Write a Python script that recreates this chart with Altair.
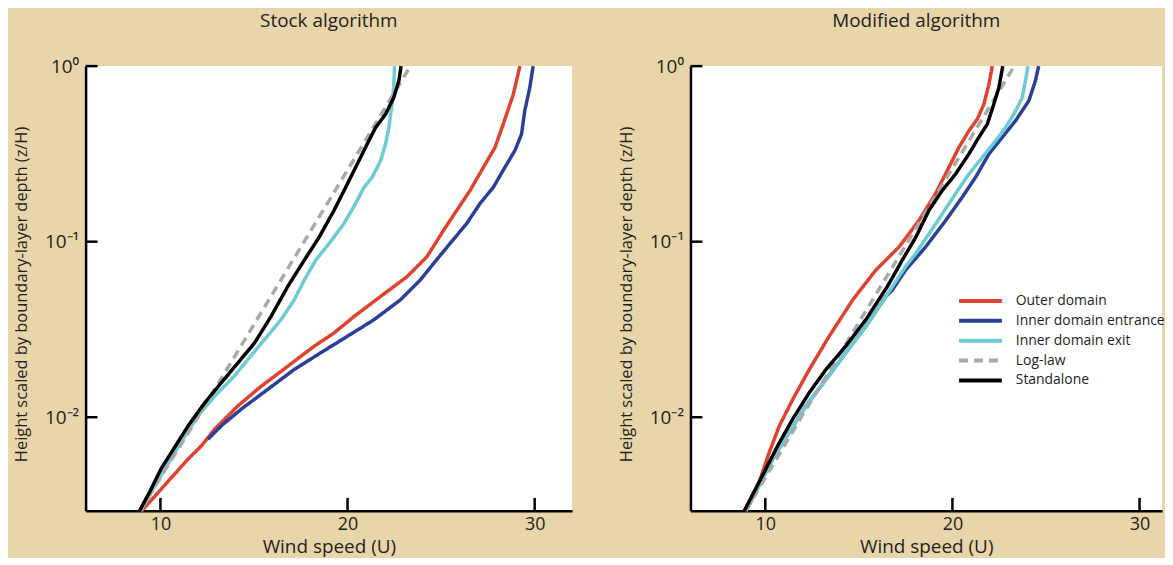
import altair as alt
import pandas as pd

FONT = "Open Sans"
TEXT = "#231f20"
BG = "#e8d5aa"

SERIES = ["Outer domain", "Inner domain entrance", "Inner domain exit", "Log-law", "Standalone"]
COLORS = ["#e2412f", "#2b3f98", "#6ccbd3", "#a9a9ab", "#000000"]
DASHES = [[1, 0], [1, 0], [1, 0], [9, 6], [1, 0]]

X_TICKS = [10, 20, 30]
Y_TICKS = [1, 0.1, 0.01]

# ---------- Stock algorithm ----------
stock_outer_u = [9.0, 11.48, 12.19, 12.90, 14.14, 15.38, 16.80, 18.22, 19.28, 20.35, 21.76, 23.18,
                 24.24, 25.13, 25.84, 26.55, 27.26, 27.88, 28.32, 28.86, 29.21]
stock_outer_z = [0.00293, 0.00578, 0.00687, 0.00855, 0.0116, 0.0150, 0.0195, 0.0254, 0.0302, 0.0375,
                 0.0487, 0.0632, 0.082, 0.116, 0.151, 0.196, 0.265, 0.344, 0.467, 0.691, 1.0]

stock_entr_u = [12.54, 13.25, 14.31, 15.73, 17.15, 18.57, 19.99, 21.41, 22.82, 23.89, 24.60, 25.48,
                26.37, 27.08, 27.79, 28.41, 28.94, 29.30, 29.47, 29.74, 29.92]
stock_entr_z = [0.0075, 0.00893, 0.0111, 0.0144, 0.0187, 0.0233, 0.0289, 0.0359, 0.0466, 0.0605, 0.0752,
                0.0977, 0.127, 0.165, 0.204, 0.265, 0.330, 0.410, 0.556, 0.754, 1.0]

stock_exit_u = [8.94, 10.2, 11.2, 12.01, 12.90, 13.96, 14.67, 15.56, 16.44, 17.15, 17.69, 18.30, 19.02,
                19.81, 20.43, 20.88, 21.32, 21.77, 22.03, 22.21, 22.38, 22.47, 22.51]
stock_exit_z = [0.00293, 0.0050, 0.0075, 0.0102, 0.0132, 0.0172, 0.0213, 0.0277, 0.0359, 0.0466, 0.0605,
                0.0785, 0.0977, 0.127, 0.165, 0.204, 0.233, 0.290, 0.360, 0.447, 0.607, 0.754, 1.0]

stock_log_u = [8.9, 12.0, 17.68, 23.36]
stock_log_z = [0.00293, 0.01, 0.1, 1.0]

stock_alone_u = [8.88, 9.43, 10.04, 10.59, 11.48, 12.37, 13.25, 14.14, 15.03, 15.91, 16.80, 17.69, 18.48,
                 19.28, 19.90, 20.52, 21.05, 21.50, 22.03, 22.47, 22.74, 22.86]
stock_alone_z = [0.00293, 0.00376, 0.0051, 0.00631, 0.00893, 0.0121, 0.0157, 0.0204, 0.0265, 0.0375,
                 0.0555, 0.0785, 0.106, 0.151, 0.204, 0.277, 0.360, 0.447, 0.532, 0.662, 0.822, 1.0]

# ---------- Modified algorithm ----------
mod_outer_u = [8.88, 9.68, 10.21, 10.75, 11.46, 12.35, 13.41, 14.67, 15.91, 16.44, 17.15,
               18.21, 19.10, 19.81, 20.35, 20.88, 21.33, 21.68, 21.95, 22.13]
mod_outer_z = [0.00293, 0.00429, 0.00631, 0.00893, 0.0126, 0.0187, 0.0289, 0.0466, 0.069, 0.0785,
               0.0935, 0.132, 0.188, 0.265, 0.345, 0.428, 0.499, 0.607, 0.787, 1.0]

mod_entr_u = [8.97, 9.77, 10.39, 11.28, 12.17, 13.24, 14.30, 15.37, 16.44, 16.79, 17.50, 18.57, 19.64,
              20.52, 21.24, 21.95, 22.66, 23.37, 24.08, 24.43, 24.61]
mod_entr_z = [0.00293, 0.00429, 0.00578, 0.00819, 0.0116, 0.0164, 0.0233, 0.0329, 0.0487, 0.0531, 0.069,
              0.0935, 0.132, 0.179, 0.233, 0.316, 0.393, 0.488, 0.634, 0.822, 1.0]

mod_exit_u = [8.97, 10.39, 11.28, 12.17, 13.24, 14.30, 15.37, 16.44, 17.50, 18.04, 18.75, 19.46, 20.17,
              20.88, 21.60, 22.31, 22.84, 23.28, 23.73, 23.90, 24.04]
mod_exit_z = [0.00293, 0.00578, 0.00819, 0.0116, 0.0164, 0.0233, 0.0329, 0.0487, 0.0722, 0.0857, 0.111,
              0.144, 0.188, 0.243, 0.302, 0.376, 0.447, 0.532, 0.662, 0.822, 1.0]

mod_log_u = [8.95, 11.92, 17.62, 23.3]
mod_log_z = [0.00293, 0.01, 0.1, 1.0]

mod_alone_u = [8.88, 9.68, 10.66, 11.46, 12.35, 13.24, 14.30, 15.37, 16.52, 17.32, 18.04, 18.75, 19.46,
               20.17, 20.88, 21.41, 21.86, 22.21, 22.48, 22.69]
mod_alone_z = [0.00293, 0.00429, 0.00687, 0.00975, 0.0138, 0.0187, 0.0254, 0.0359, 0.0555, 0.0785, 0.106,
               0.151, 0.196, 0.243, 0.316, 0.393, 0.467, 0.607, 0.754, 1.0]


def frame(curves):
    rows = []
    for name, us, zs in curves:
        for i, (u, z) in enumerate(zip(us, zs)):
            rows.append({"series": name, "U": u, "z": z, "idx": i})
    return pd.DataFrame(rows)


stock_df = frame([
    (SERIES[0], stock_outer_u, stock_outer_z),
    (SERIES[1], stock_entr_u, stock_entr_z),
    (SERIES[2], stock_exit_u, stock_exit_z),
    (SERIES[3], stock_log_u, stock_log_z),
    (SERIES[4], stock_alone_u, stock_alone_z),
])
mod_df = frame([
    (SERIES[0], mod_outer_u, mod_outer_z),
    (SERIES[1], mod_entr_u, mod_entr_z),
    (SERIES[2], mod_exit_u, mod_exit_z),
    (SERIES[3], mod_log_u, mod_log_z),
    (SERIES[4], mod_alone_u, mod_alone_z),
])

H = 447
Y_LABELS = "datum.value >= 0.5 ? '10⁰' : (datum.value >= 0.05 ? '10⁻¹' : '10⁻²')"


def panel(df, title, xmax, width, show_legend, title_dx):
    xs = alt.Scale(domain=[6, xmax], nice=False, zero=False)
    ys = alt.Scale(type="log", domain=[0.00293, 1], nice=False)
    xaxis = alt.Axis(values=X_TICKS, ticks=False, grid=False, labelPadding=5, labelFontSize=18,
                     title="Wind speed (U)", titlePadding=4, titleFontSize=19)
    yaxis = alt.Axis(values=Y_TICKS, ticks=False, grid=False, labelPadding=7, labelExpr=Y_LABELS,
                     labelFontSize=19,
                     title="Height scaled by boundary-layer depth (z/H)", titleFontSize=16.5,
                     titleX=-64, titleY=229, titleBaseline="middle", titleAlign="center")
    if show_legend:
        leg = alt.Legend(title=None, orient="none", legendX=268, legendY=228,
                         symbolType="stroke", symbolStrokeWidth=4, symbolSize=1849,
                         clipHeight=16, rowPadding=4, labelFontSize=14, labelFont=FONT,
                         labelColor=TEXT, labelOffset=12, labelLimit=300)
    else:
        leg = None
    lines = alt.Chart(df).mark_line(strokeWidth=3.5, strokeJoin="round").encode(
        x=alt.X("U:Q", scale=xs, axis=xaxis),
        y=alt.Y("z:Q", scale=ys, axis=yaxis),
        color=alt.Color("series:N", scale=alt.Scale(domain=SERIES, range=COLORS), legend=leg),
        strokeDash=alt.StrokeDash("series:N", scale=alt.Scale(domain=SERIES, range=DASHES), legend=leg),
        order=alt.Order("idx:Q"),
    )
    xt = alt.Chart(pd.DataFrame({"U": X_TICKS})).mark_rule(color="black", strokeWidth=2.5).encode(
        x=alt.X("U:Q", scale=xs, axis=xaxis), y=alt.value(H), y2=alt.value(H - 13))
    yt = alt.Chart(pd.DataFrame({"z": Y_TICKS})).mark_rule(color="black", strokeWidth=2.5).encode(
        y=alt.Y("z:Q", scale=ys, axis=yaxis), x=alt.value(0), x2=alt.value(12))
    return alt.layer(lines, xt, yt).properties(
        width=width, height=H,
        title=alt.Title(title, dx=title_dx, font=FONT, fontSize=19, color=TEXT,
                        fontWeight="normal", anchor="middle", offset=26))


left = panel(stock_df, "Stock algorithm", 32, 489, False, 0)
right = panel(mod_df, "Modified algorithm", 31.2, 474, True, -10)

chart = alt.hconcat(left, right, spacing=119, bounds="flush").resolve_scale(
    color="independent", strokeDash="independent"
).properties(
    background=BG, padding={"left": 5, "top": 3, "right": 0, "bottom": 0}
).configure_view(fill="white", stroke=None).configure_axis(
    domainColor="black", domainWidth=2.5, labelFont=FONT, labelColor=TEXT,
    titleFont=FONT, titleColor=TEXT, titleFontWeight="normal"
)

chart.save("out.html", embed_options={"renderer": "svg", "actions": False})
